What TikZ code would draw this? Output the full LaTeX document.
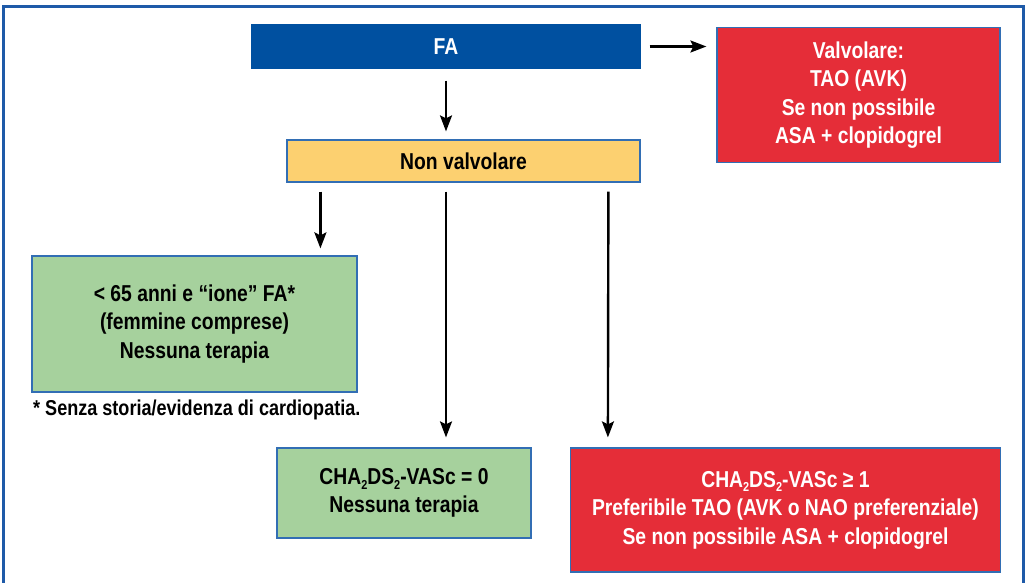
\documentclass[tikz,border=0pt]{standalone}
\usepackage{fontspec}
\setmainfont[FakeStretch=0.84]{Liberation Sans}
\usetikzlibrary{arrows.meta,calc}
\definecolor{frameblue}{RGB}{30,90,168}
\definecolor{edgeblue}{RGB}{50,110,180}
\definecolor{fablue}{RGB}{0,80,160}
\definecolor{boxred}{RGB}{229,45,56}
\definecolor{boxyellow}{RGB}{252,208,112}
\definecolor{boxgreen}{RGB}{166,209,157}
\newcommand{\sub}[1]{\raisebox{-0.4ex}{\fontsize{13}{13}\selectfont #1}}
\begin{document}
\begin{tikzpicture}[x=1pt,y=-1pt,
  box/.style={draw=edgeblue,line width=1.2pt,align=center,inner sep=0pt,
    font=\fontsize{23}{28.5}\selectfont\bfseries},
  arr/.style={draw=black,line width=2.4pt,-{Stealth[length=16pt,width=12pt,inset=3pt]}}]
\useasboundingbox (0,0) rectangle (1028,583);
\clip (0,0) rectangle (1028,583);
\fill[white] (0,0) rectangle (1028,583);
\draw[frameblue,line width=3pt] (3,7) rectangle (1023,600);
\node[box,fill=fablue,draw=fablue,text=white,minimum width=388pt,minimum height=43pt] (fa) at (446,46.5) {FA};
\node[box,fill=boxred,text=white,minimum width=283pt,minimum height=135pt] (valv) at (858.5,95)
  {Valvolare:\\TAO (AVK)\\Se non possibile\\ASA + clopidogrel};
\node[box,fill=boxyellow,minimum width=353pt,minimum height=42pt] (nv) at (463.5,161) {Non valvolare};
\node[box,fill=boxgreen,minimum width=325pt,minimum height=136pt] (g1) at (194.5,324)
  {< 65 anni e “ione” FA*\\(femmine comprese)\\Nessuna terapia};
\node[anchor=west,inner sep=0pt,font=\fontsize{21.5}{22}\selectfont\bfseries] (note) at (33,410)
  {* Senza storia/evidenza di cardiopatia.};
\node[box,fill=boxgreen,minimum width=254pt,minimum height=90pt] (g2) at (404,493)
  {CHA\sub{2}DS\sub{2}-VASc = 0\\Nessuna terapia};
\node[box,fill=boxred,text=white,minimum width=430pt,minimum height=124pt] (r2) at (785.5,510)
  {CHA\sub{2}DS\sub{2}-VASc ≥ 1\\Preferibile TAO (AVK o NAO preferenziale)\\Se non possibile ASA + clopidogrel};
\draw[arr] ($(fa.east)+(9,0)$) -- ($(valv.west |- fa.east)+(-10,0)$);
\draw[arr] ($(fa.south)+(0,12)$) -- ($(nv.north -| fa.south)+(0,-8)$);
\draw[arr] ($(nv.south west)+(34,9)$) -- ($(g1.north west)+(289,-7)$);
\draw[arr] ($(nv.south -| fa.south)+(0,9)$) -- ($(g2.north -| fa.south)+(0,-10)$);
\draw[arr] ($(nv.south west)+(322,9)$) -- ($(r2.north west)+(38,-10)$);
\end{tikzpicture}
\end{document}
